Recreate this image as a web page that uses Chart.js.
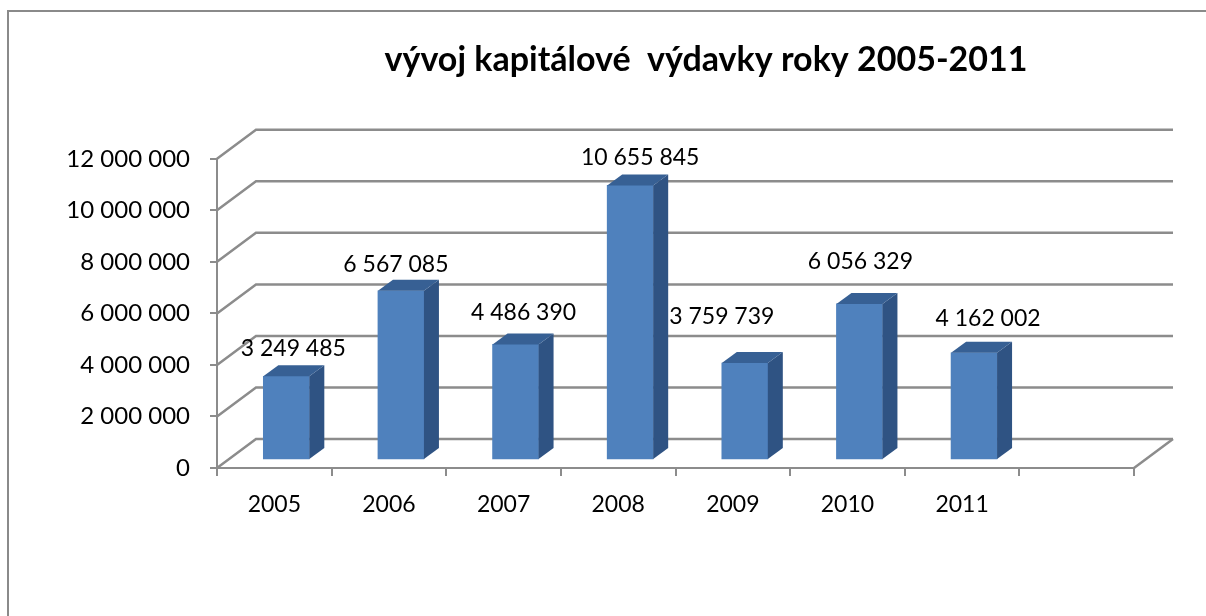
<!DOCTYPE html>
<html lang="cs">
<head>
  <meta charset="UTF-8">
  <title>vývoj kapitálové výdavky</title>
  <script src="https://cdn.jsdelivr.net/npm/chart.js"></script>
  <style>
    html, body { margin: 0; padding: 0; background: #fff; overflow: hidden; }
    #frame {
      position: absolute; left: 7px; top: 10px; right: 0; bottom: 0;
      border-left: 2px solid #8a8a8a; border-top: 2px solid #8a8a8a;
    }
    canvas { position: absolute; left: 0; top: 0; }
  </style>
</head>
<body>
  <div id="frame"></div>
  <canvas id="capexChart" width="1206" height="616"></canvas>

  <script>
    const years = ['2005', '2006', '2007', '2008', '2009', '2010', '2011', ''];
    const capex = [3249485, 6567085, 4486390, 10655845, 3759739, 6056329, 4162002, null];
    const chartTitle = 'vývoj kapitálové  výdavky roky 2005-2011';

    // hand placed labels in the original, offset from the top centre of each bar
    const labelDx = [7, -5, 8, 10, -23, 1, 14];
    const labelDy = [-28, -26, -32, -28, -47, -42, -34];

    const axisGrey = '#8c8c8c';
    const depthX = 39, depthY = 29;      // wall offset
    const barShiftX = 12, barShiftY = -8;
    const barDepthX = 15, barDepthY = 11;
    const font = 'Lato, "Open Sans", sans-serif';

    const formatNumber = v => String(v).replace(/\B(?=(\d{3})+(?!\d))/g, ' ');

    const wall = {
      id: 'wall',
      afterLayout(chart) {
        // title sits right of the middle
        chart.titleBlock.left += 139;
        chart.titleBlock.right += 139;
      },
      beforeDatasetsDraw(chart) {
        const { ctx, chartArea: a, scales: { y } } = chart;
        ctx.save();
        ctx.strokeStyle = axisGrey;
        ctx.lineWidth = 2.5;
        y.ticks.forEach(t => {
          const py = y.getPixelForValue(t.value);
          ctx.beginPath();
          ctx.moveTo(a.left, py);
          ctx.lineTo(a.left + depthX, py - depthY);
          ctx.lineTo(a.right + depthX, py - depthY);
          ctx.stroke();
        });
        ctx.beginPath();
        ctx.moveTo(a.right, a.bottom);
        ctx.lineTo(a.right + depthX, a.bottom - depthY);
        ctx.stroke();
        ctx.restore();
      },
      beforeDatasetDraw(chart) {
        chart.ctx.save();
        chart.ctx.translate(barShiftX, barShiftY);
      },
      afterDatasetDraw(chart) {
        const ctx = chart.ctx;
        chart.getDatasetMeta(0).data.forEach((bar, i) => {
          if (capex[i] === null) return;
          const r = bar.x + bar.width / 2, l = bar.x - bar.width / 2;
          ctx.fillStyle = '#2f5383';
          ctx.beginPath();
          ctx.moveTo(r, bar.y);
          ctx.lineTo(r + barDepthX, bar.y - barDepthY);
          ctx.lineTo(r + barDepthX, bar.base - barDepthY);
          ctx.lineTo(r, bar.base);
          ctx.closePath();
          ctx.fill();
          ctx.fillStyle = '#376094';
          ctx.beginPath();
          ctx.moveTo(l, bar.y);
          ctx.lineTo(l + barDepthX, bar.y - barDepthY);
          ctx.lineTo(r + barDepthX, bar.y - barDepthY);
          ctx.lineTo(r, bar.y);
          ctx.closePath();
          ctx.fill();
        });
        ctx.restore();
      },
      afterDatasetsDraw(chart) {
        const ctx = chart.ctx;
        ctx.save();
        ctx.font = '23px ' + font;
        ctx.fillStyle = '#000';
        ctx.textAlign = 'center';
        ctx.textBaseline = 'middle';
        chart.getDatasetMeta(0).data.forEach((bar, i) => {
          if (capex[i] === null) return;
          ctx.fillText(formatNumber(capex[i]),
            bar.x + barShiftX + labelDx[i],
            bar.y + barShiftY + labelDy[i]);
        });
        ctx.restore();
      }
    };

    new Chart(document.getElementById('capexChart'), {
      type: 'bar',
      data: {
        labels: years,
        datasets: [{
          data: capex,
          backgroundColor: '#4f81bd',
          barThickness: 46,
          clip: false
        }]
      },
      options: {
        responsive: false,
        animation: false,
        layout: { padding: { top: 0, right: 72, bottom: 0, left: 0 } },
        plugins: {
          legend: { display: false },
          tooltip: { enabled: false },
          title: {
            display: true,
            text: chartTitle,
            color: '#000',
            font: { family: font, size: 34, weight: 'bold', lineHeight: 1.2 },
            padding: { top: 40, bottom: 78 }
          }
        },
        scales: {
          x: {
            afterFit: s => { s.height = 148; },
            grid: { drawOnChartArea: false, color: axisGrey, lineWidth: 2, tickLength: 8 },
            border: { color: axisGrey, width: 2 },
            ticks: { color: '#000', padding: 15, maxRotation: 0, font: { family: font, size: 23 } }
          },
          y: {
            min: 0,
            max: 12000000,
            afterFit: s => { s.width = 217; },
            grid: { drawOnChartArea: false, color: axisGrey, lineWidth: 2, tickLength: 7 },
            border: { color: axisGrey, width: 2 },
            ticks: {
              stepSize: 2000000,
              color: '#000',
              padding: 20,
              font: { family: font, size: 24 },
              callback: formatNumber
            }
          }
        }
      },
      plugins: [wall]
    });
  </script>
</body>
</html>
